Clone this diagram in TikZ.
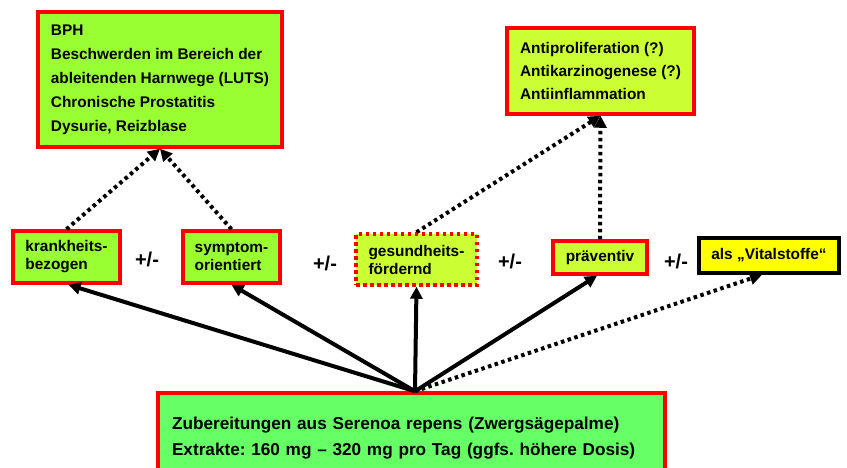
\documentclass[tikz,border=0pt]{standalone}
\usepackage{fontspec}
\setmainfont{Liberation Sans}
\usetikzlibrary{arrows.meta,positioning}
\frenchspacing
\definecolor{leaf}{HTML}{99FF33}
\definecolor{lime}{HTML}{CCFF33}
\definecolor{mint}{HTML}{66FF66}
\definecolor{signal}{HTML}{FF0000}
\definecolor{sun}{HTML}{FFFF00}
\tikzset{
  >={Triangle[length=12pt,width=12pt]},
  box/.style={draw=signal,fill=#1,line width=3.5pt,align=left,inner sep=0pt,
    font=\fontsize{15.4}{18}\selectfont\bfseries},
  box/.default=leaf,
  dotbox/.style={box=lime,dash pattern=on 3.5pt off 3.5pt},
  pm/.style={font=\fontsize{20}{20}\selectfont\bfseries},
  flow/.style={->,line width=4pt},
  dotflow/.style={->,line width=4pt,dash pattern=on 3.5pt off 3.5pt},
}
\begin{document}
\begin{tikzpicture}[x=1pt,y=-1pt]
  \useasboundingbox (0,0) rectangle (847,467);
  \clip (0,0) rectangle (847,467);
  % top boxes
  \node[box,minimum width=244pt,minimum height=135pt,font=\fontsize{15.4}{24}\selectfont\bfseries] (bph) at (160,79.5)
    {BPH\\Beschwerden im Bereich der\\ableitenden Harnwege (LUTS)\\Chronische Prostatitis\\Dysurie, Reizblase};
  \node[box=lime,minimum width=187pt,minimum height=86pt,font=\fontsize{15.4}{23}\selectfont\bfseries] (anti) at (600.5,71)
    {Antiproliferation (?)\\Antikarzinogenese (?)\\Antiinflammation};
  % middle row
  \node[box,minimum width=107pt,minimum height=52pt] (kb) at (66.5,257) {krankheits-\\bezogen};
  \node[box,minimum width=97pt,minimum height=52pt] (so) at (231.5,257) {symptom-\\orientiert};
  \node[dotbox,minimum width=121pt,minimum height=51pt] (gf) at (416.5,259.5) {gesundheits-\\fördernd};
  \node[box=lime,minimum width=94pt,minimum height=33pt] (pv) at (600,257.5) {präventiv};
  \node[box=sun,draw=black,minimum width=140pt,minimum height=35pt] (vs) at (769,255.5) {als „Vitalstoffe“};
  \node[pm] (pm1) at (147,259) {+/-};
  \node[pm] (pm2) at (325,263) {+/-};
  \node[pm] (pm3) at (510,261) {+/-};
  \node[pm] (pm4) at (676,261) {+/-};
  % bottom box
  \node[box=mint,text width=479pt,inner xsep=14pt,minimum height=90pt,font=\fontsize{17.2}{26}\selectfont\bfseries] (sr) at (411.5,438)
    {Zubereitungen aus Serenoa repens (Zwergsägepalme)\\Extrakte: 160 mg – 320 mg pro Tag (ggfs. höhere Dosis)};
  \coordinate (apex) at ([xshift=3.5pt]sr.north);
  % connectors
  \draw[flow] (apex) -- ([xshift=2pt]kb.south);
  \draw[flow] (apex) -- (so.south);
  \draw[flow] (apex) -- (gf.south);
  \draw[flow] (apex) -- ([xshift=-3pt]pv.south);
  \draw[dotflow] (apex) -- ([xshift=-7pt]vs.south);
  \draw[dotflow] (kb.north) -- (bph.south);
  \draw[dotflow] (so.north) -- (bph.south);
  \draw[dotflow] (gf.north) -- (anti.south);
  \draw[dotflow] (pv.north) -- (anti.south);
\end{tikzpicture}
\end{document}
